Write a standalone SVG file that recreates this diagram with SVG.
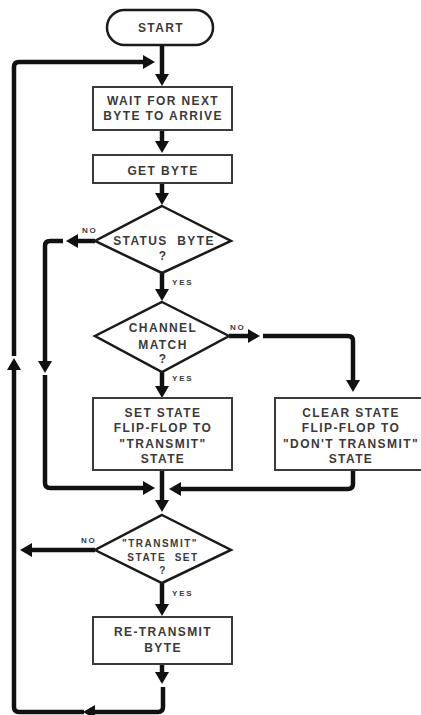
<svg xmlns="http://www.w3.org/2000/svg" width="421" height="715" viewBox="0 0 421 715">
<style>
.bg{fill:#fff}
.box{fill:#fff;stroke:#3a3a3a;stroke-width:2}
.dia{fill:#fff;stroke:#1a1a1a;stroke-width:2.5;stroke-linejoin:miter}
.term{fill:#fff;stroke:#1a1a1a;stroke-width:2.5}
.t{font-family:"Liberation Sans",Arial,sans-serif;font-weight:bold;font-size:12px;letter-spacing:1.4px;fill:#3a3a3a;text-anchor:middle;white-space:pre}
.ts{font-size:10px;letter-spacing:1.5px}
.lb{font-family:"Liberation Sans",Arial,sans-serif;font-weight:bold;font-size:8px;letter-spacing:1.8px;fill:#3a3a3a}
.ln{fill:none;stroke:#111;stroke-width:4.5;stroke-linejoin:round}
</style>
<defs>
<marker id="a" viewBox="0 0 12 14" refX="0" refY="7" markerWidth="12" markerHeight="14" markerUnits="userSpaceOnUse" orient="auto">
<path d="M0,0 L12,7 L0,14 z" fill="#111"/>
</marker>
</defs>
<rect class="bg" x="0" y="0" width="421" height="715"/>
<g id="connectors">
<path class="ln" d="M162 45 V74" marker-end="url(#a)"/>
<path class="ln" d="M162 130 V141" marker-end="url(#a)"/>
<path class="ln" d="M162 183 V193" marker-end="url(#a)"/>
<path class="ln" d="M162 273 V289" marker-end="url(#a)"/>
<path class="ln" d="M162 372 V386" marker-end="url(#a)"/>
<path class="ln" d="M162 470 V500" marker-end="url(#a)"/>
<path class="ln" d="M162 583 V604" marker-end="url(#a)"/>
<path class="ln" d="M162 664 V672" marker-end="url(#a)"/>
<path class="ln" d="M163 687 V707 Q163 712 158 712 H95" marker-end="url(#a)"/>
<path class="ln" d="M84 712 H19 Q14 712 14 707 V370" marker-end="url(#a)"/>
<path class="ln" d="M14 356 V67 Q14 62 19 62 H143" marker-end="url(#a)"/>
<path class="ln" d="M95 241 H78" marker-end="url(#a)"/>
<path class="ln" d="M63 241 H50 Q45 241 45 246 V361" marker-end="url(#a)"/>
<path class="ln" d="M45 375 V483 Q45 488 50 488 H143" marker-end="url(#a)"/>
<path class="ln" d="M229 336 H248" marker-end="url(#a)"/>
<path class="ln" d="M263 336 H348 Q353 336 353 341 V380" marker-end="url(#a)"/>
<path class="ln" d="M353 470 V484 Q353 489 348 489 H181" marker-end="url(#a)"/>
<path class="ln" d="M95 550 H32" marker-end="url(#a)"/>
</g>
<g id="start">
<rect class="term" x="107" y="10" width="106" height="35" rx="17.5"/>
<text class="t" x="161" y="32">START</text>
</g>
<g id="wait">
<rect class="box" x="93" y="87" width="139" height="43"/>
<text class="t" x="163" y="105">WAIT FOR NEXT</text>
<text class="t" x="163" y="120">BYTE TO ARRIVE</text>
</g>
<g id="getbyte">
<rect class="box" x="93" y="155" width="139" height="28"/>
<text class="t" x="163" y="175">GET BYTE</text>
</g>
<g id="status">
<polygon class="dia" points="162,206 231,241 162,273 95,241"/>
<text class="t" x="164" y="245" xml:space="preserve">STATUS  BYTE</text>
<text class="t" x="163" y="260">?</text>
<text class="lb" x="82" y="233">NO</text>
<text class="lb" x="172" y="285">YES</text>
</g>
<g id="channel">
<polygon class="dia" points="162,302 229,336 162,372 95,336"/>
<text class="t" x="163" y="332">CHANNEL</text>
<text class="t" x="163" y="348.5">MATCH</text>
<text class="t" x="163" y="363">?</text>
<text class="lb" x="230" y="330">NO</text>
<text class="lb" x="172" y="381">YES</text>
</g>
<g id="setstate">
<rect class="box" x="93" y="398" width="139" height="72"/>
<text class="t" x="163" y="416.5">SET STATE</text>
<text class="t" x="163" y="432">FLIP-FLOP TO</text>
<text class="t" x="163" y="447.5">"TRANSMIT"</text>
<text class="t" x="163" y="463">STATE</text>
</g>
<g id="clearstate">
<rect class="box" x="275" y="398" width="152" height="72"/>
<text class="t" x="351" y="416.5">CLEAR STATE</text>
<text class="t" x="351" y="432">FLIP-FLOP TO</text>
<text class="t" x="351" y="447.5">"DON'T TRANSMIT"</text>
<text class="t" x="351" y="463">STATE</text>
</g>
<g id="transmitset">
<polygon class="dia" points="162,515 231,550 162,583 95,550"/>
<text class="t ts" x="160" y="546.5">"TRANSMIT"</text>
<text class="t ts" x="163" y="560.5" xml:space="preserve">STATE  SET</text>
<text class="t ts" x="163" y="573.5">?</text>
<text class="lb" x="81" y="543">NO</text>
<text class="lb" x="172" y="596">YES</text>
</g>
<g id="retransmit">
<rect class="box" x="93" y="617" width="139" height="47"/>
<text class="t" x="163" y="636">RE-TRANSMIT</text>
<text class="t" x="163" y="651.5">BYTE</text>
</g>
</svg>
